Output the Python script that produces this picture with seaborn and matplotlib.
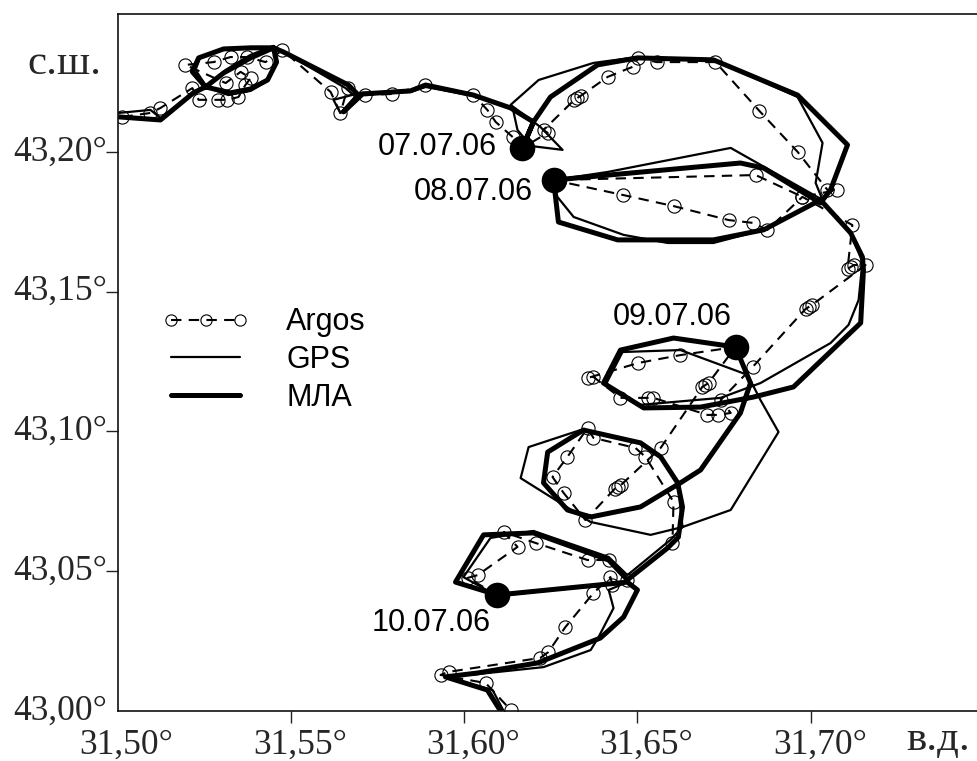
"""
Drifter track: Argos fixes, GPS and MLA trajectories
"""

import matplotlib
matplotlib.use("Agg")
import matplotlib.pyplot as plt
from matplotlib.transforms import ScaledTranslation
import pandas as pd
import seaborn as sns

# Thick line (MLA)
mla_lon = [31.5003, 31.5124, 31.5219, 31.5254, 31.5216, 31.5234, 31.5306, 31.5384, 31.5450, 31.5459,
           31.5433, 31.5384, 31.5326, 31.5268, 31.5254, 31.5306, 31.5384, 31.5450, 31.5479, 31.5666,
           31.5695, 31.5652, 31.5707, 31.5845, 31.5889, 31.6027, 31.6134, 31.6200, 31.6168, 31.6200,
           31.6249, 31.6385, 31.6500, 31.6719, 31.6962, 31.7106, 31.7057, 31.7028, 31.6864, 31.6797,
           31.6258, 31.6272, 31.6443, 31.6719, 31.6864, 31.7028, 31.7115, 31.7149, 31.7152, 31.7144,
           31.6950, 31.6835, 31.6682, 31.6518, 31.6402, 31.6451, 31.6604, 31.6783, 31.6826, 31.6797,
           31.6682, 31.6624, 31.6509, 31.6365, 31.6298, 31.6229, 31.6241, 31.6344, 31.6509, 31.6567,
           31.6616, 31.6630, 31.6618, 31.6587, 31.6471, 31.6417, 31.6200, 31.6056, 31.5975, 31.6096,
           31.6471, 31.6500, 31.6460, 31.6393, 31.6212, 31.6039, 31.5946, 31.6067, 31.6105]
mla_lat = [43.2125, 43.2114, 43.2211, 43.2232, 43.2286, 43.2336, 43.2368, 43.2372, 43.2372, 43.2321,
           43.2257, 43.2225, 43.2211, 43.2228, 43.2232, 43.2282, 43.2336, 43.2372, 43.2357, 43.2239,
           43.2203, 43.2143, 43.2207, 43.2218, 43.2239, 43.2203, 43.2157, 43.2107, 43.2014, 43.2107,
           43.2196, 43.2311, 43.2336, 43.2329, 43.2203, 43.2025, 43.1864, 43.1817, 43.1942, 43.1960,
           43.1899, 43.1749, 43.1685, 43.1685, 43.1721, 43.1828, 43.1710, 43.1624, 43.1577, 43.1388,
           43.1159, 43.1123, 43.1087, 43.1084, 43.1173, 43.1291, 43.1334, 43.1302, 43.1173, 43.1066,
           43.0862, 43.0816, 43.0730, 43.0694, 43.0719, 43.0816, 43.0926, 43.1005, 43.0959, 43.0909,
           43.0816, 43.0730, 43.0622, 43.0583, 43.0469, 43.0540, 43.0637, 43.0630, 43.0461, 43.0415,
           43.0461, 43.0433, 43.0336, 43.0261, 43.0172, 43.0136, 43.0122, 43.0075, 43.0000]

# Thin line (GPS)
gps_lon = [31.5003, 31.5095, 31.5124, 31.5219, 31.5254, 31.5225, 31.5239, 31.5306, 31.5384, 31.5450,
           31.5459, 31.5427, 31.5384, 31.5320, 31.5254, 31.5312, 31.5384, 31.5450, 31.5479, 31.5658,
           31.5687, 31.5643, 31.5623, 31.5701, 31.5845, 31.5889, 31.6027, 31.6140, 31.6154, 31.6192,
           31.6284, 31.6220, 31.6134, 31.6215, 31.6373, 31.6500, 31.6719, 31.6962, 31.7034, 31.7014,
           31.7034, 31.6769, 31.6414, 31.6258, 31.6269, 31.6316, 31.6460, 31.6587, 31.6719, 31.6864,
           31.7028, 31.7115, 31.7149, 31.7138, 31.7109, 31.7057, 31.6855, 31.6740, 31.6509, 31.6408,
           31.6457, 31.6624, 31.6818, 31.6855, 31.6907, 31.6769, 31.6630, 31.6538, 31.6365, 31.6163,
           31.6186, 31.6336, 31.6509, 31.6567, 31.6616, 31.6630, 31.6595, 31.6471, 31.6417, 31.6200,
           31.6076, 31.5998, 31.6096, 31.6471, 31.6417, 31.6431, 31.6388, 31.6365, 31.6229, 31.6039,
           31.5946, 31.6082, 31.6114]
gps_lat = [43.2139, 43.2150, 43.2121, 43.2211, 43.2239, 43.2293, 43.2339, 43.2368, 43.2375, 43.2375,
           43.2321, 43.2250, 43.2218, 43.2203, 43.2232, 43.2293, 43.2347, 43.2379, 43.2357, 43.2228,
           43.2196, 43.2139, 43.2186, 43.2211, 43.2214, 43.2232, 43.2200, 43.2157, 43.2078, 43.2021,
           43.2007, 43.2089, 43.2168, 43.2257, 43.2318, 43.2339, 43.2329, 43.2196, 43.2032, 43.1889,
           43.1828, 43.2014, 43.1928, 43.1899, 43.1839, 43.1767, 43.1703, 43.1674, 43.1674, 43.1721,
           43.1828, 43.1710, 43.1606, 43.1470, 43.1381, 43.1316, 43.1173, 43.1120, 43.1095, 43.1166,
           43.1284, 43.1291, 43.1202, 43.1112, 43.0998, 43.0719, 43.0658, 43.0630, 43.0676, 43.0833,
           43.0944, 43.1005, 43.0959, 43.0909, 43.0816, 43.0658, 43.0612, 43.0486, 43.0551, 43.0644,
           43.0619, 43.0479, 43.0411, 43.0461, 43.0433, 43.0368, 43.0265, 43.0218, 43.0157, 43.0132,
           43.0122, 43.0075, 43.0000]

# Dashed line with open circles (Argos), close repeats are the dark clusters of fixes
argos_lon = [31.5014, 31.5095, 31.5124, 31.5216, 31.5234, 31.5289, 31.5317, 31.5349, 31.5369, 31.5384,
             31.5355, 31.5312, 31.5196, 31.5277, 31.5326, 31.5375, 31.5427, 31.5476, 31.5615, 31.5643,
             31.5664, 31.5715, 31.5793, 31.5886, 31.6027, 31.6067, 31.6091, 31.6140, 31.6168, 31.6241,
             31.6229, 31.6318, 31.6327, 31.6336, 31.6414, 31.6486, 31.6503, 31.6555, 31.6725, 31.6852,
             31.6962, 31.7048, 31.7077, 31.6976, 31.6841, 31.6258, 31.6457, 31.6604, 31.6763, 31.6832,
             31.6875, 31.6976, 31.7120, 31.7106, 31.7115, 31.7124, 31.7158, 31.7003, 31.6994, 31.6985,
             31.6832, 31.6740, 31.6769, 31.6731, 31.6702, 31.6546, 31.6529, 31.6451, 31.6373, 31.6356,
             31.6503, 31.6624, 31.6783, 31.6705, 31.6696, 31.6687, 31.6567, 31.6452, 31.6443, 31.6434,
             31.6350, 31.6287, 31.6255, 31.6298, 31.6356, 31.6373, 31.6494, 31.6523, 31.6604, 31.6601,
             31.6471, 31.6417, 31.6356, 31.6206, 31.6114, 31.6154, 31.6039, 31.6010, 31.6096, 31.6428,
             31.6422, 31.6373, 31.6292, 31.6243, 31.6220, 31.5955, 31.5932, 31.6062, 31.6134]
argos_lat = [43.2125, 43.2139, 43.2157, 43.2228, 43.2186, 43.2186, 43.2186, 43.2196, 43.2239, 43.2264,
             43.2286, 43.2246, 43.2311, 43.2321, 43.2339, 43.2339, 43.2321, 43.2364, 43.2214, 43.2139,
             43.2228, 43.2203, 43.2207, 43.2239, 43.2203, 43.2150, 43.2107, 43.2053, 43.2014, 43.2068,
             43.2078, 43.2186, 43.2193, 43.2200, 43.2268, 43.2304, 43.2336, 43.2321, 43.2321, 43.2146,
             43.2000, 43.1864, 43.1864, 43.1839, 43.1917, 43.1899, 43.1846, 43.1806, 43.1756, 43.1746,
             43.1721, 43.1839, 43.1738, 43.1581, 43.1588, 43.1595, 43.1595, 43.1452, 43.1445, 43.1438,
             43.1230, 43.1112, 43.1066, 43.1059, 43.1059, 43.1120, 43.1120, 43.1120, 43.1195, 43.1191,
             43.1245, 43.1273, 43.1302, 43.1173, 43.1166, 43.1159, 43.0941, 43.0808, 43.0801, 43.0794,
             43.0683, 43.0780, 43.0837, 43.0909, 43.1012, 43.0977, 43.0941, 43.0909, 43.0748, 43.0601,
             43.0469, 43.0540, 43.0540, 43.0601, 43.0640, 43.0587, 43.0486, 43.0476, 43.0415, 43.0451,
             43.0479, 43.0422, 43.0300, 43.0211, 43.0190, 43.0140, 43.0129, 43.0100, 43.0004]

# Daily position dots and their labels
date_labels = ["07.07.06", "08.07.06", "09.07.06", "10.07.06"]
dot_lon = [31.6168, 31.6258, 31.6783, 31.6096]
dot_lat = [43.2014, 43.1899, 43.1302, 43.0415]
label_lon = [31.5923, 31.6027, 31.6601, 31.5906]
label_lat = [43.2017, 43.1856, 43.1409, 43.0315]

x_ticks = [31.50, 31.55, 31.60, 31.65, 31.70]
y_ticks = [43.00, 43.05, 43.10, 43.15, 43.20]

sns.set_style("white")
plt.rcParams["font.family"] = ["Liberation Sans", "DejaVu Sans"]

fig = plt.figure(figsize=(9.77, 7.61), dpi=100)
ax = fig.add_axes([117.5 / 977, 50 / 761, 860 / 977, 697 / 761])

argos = pd.DataFrame({"lon": argos_lon, "lat": argos_lat})
gps = pd.DataFrame({"lon": gps_lon, "lat": gps_lat})
mla = pd.DataFrame({"lon": mla_lon, "lat": mla_lat})
dots = pd.DataFrame({"lon": dot_lon, "lat": dot_lat})

# Argos goes first, the tracks are drawn over it
sns.lineplot(data=argos, x="lon", y="lat", ax=ax, sort=False, estimator=None, color="black",
             linewidth=1.5, label="Argos", marker="o", markersize=9.5, markerfacecolor="none",
             markeredgecolor="black", markeredgewidth=0.8, dashes=False, linestyle=(0, (5, 3.5)))
sns.lineplot(data=gps, x="lon", y="lat", ax=ax, sort=False, estimator=None, color="black",
             linewidth=1.6, label="GPS")
sns.lineplot(data=mla, x="lon", y="lat", ax=ax, sort=False, estimator=None, color="black",
             linewidth=3.6, label="МЛА")
sns.scatterplot(data=dots, x="lon", y="lat", ax=ax, color="black", s=340, linewidth=0, zorder=5)

for name, lon, lat in zip(date_labels, label_lon, label_lat):
    ax.text(lon, lat, name, fontsize=22, ha="center", va="center", color="black")

ax.set_xlim(31.50, 31.7481)
ax.set_ylim(43.00, 43.2493)
ax.set_xlabel("")
ax.set_ylabel("")
ax.set_xticks(x_ticks)
ax.set_yticks(y_ticks)
ax.set_xticklabels([f"{v:.2f}°".replace(".", ",") for v in x_ticks],
                   family="Liberation Serif", fontsize=25.5)
ax.set_yticklabels([f"{v:.2f}°".replace(".", ",") for v in y_ticks],
                   family="Liberation Serif", fontsize=25.5)
ax.tick_params(axis="both", direction="out", length=8.5, width=1, color="#222222", left=True, bottom=True)
ax.tick_params(axis="x", pad=4)
ax.tick_params(axis="y", pad=-1)

# No tick marks at the corner, labels sit slightly off their ticks
ax.xaxis.get_major_ticks()[0].tick1line.set_visible(False)
ax.yaxis.get_major_ticks()[0].tick1line.set_visible(False)
for label in ax.get_xticklabels():
    label.set_transform(label.get_transform() + ScaledTranslation(9 / 100, 0, fig.dpi_scale_trans))
for label in ax.get_yticklabels():
    label.set_transform(label.get_transform() + ScaledTranslation(0, 4 / 100, fig.dpi_scale_trans))

for side in ["top", "left", "bottom"]:
    ax.spines[side].set_color("#111111")
    ax.spines[side].set_linewidth(1.2)
ax.spines["right"].set_visible(False)

ax.legend(loc="upper left", bbox_to_anchor=(0.052, 0.579), frameon=False, fontsize=22, numpoints=3,
          markerscale=0.85, handlelength=2.86, handletextpad=1.2, labelspacing=0.25, borderpad=0,
          borderaxespad=0, labelcolor="black")

fig.text(64 / 977, 1 - 74 / 761, "с.ш.", family="Liberation Serif", fontsize=31, ha="center", va="baseline")
fig.text(938 / 977, 1 - 750 / 761, "в.д.", family="Liberation Serif", fontsize=31, ha="center", va="baseline")

fig.savefig("out.png", dpi=100)
